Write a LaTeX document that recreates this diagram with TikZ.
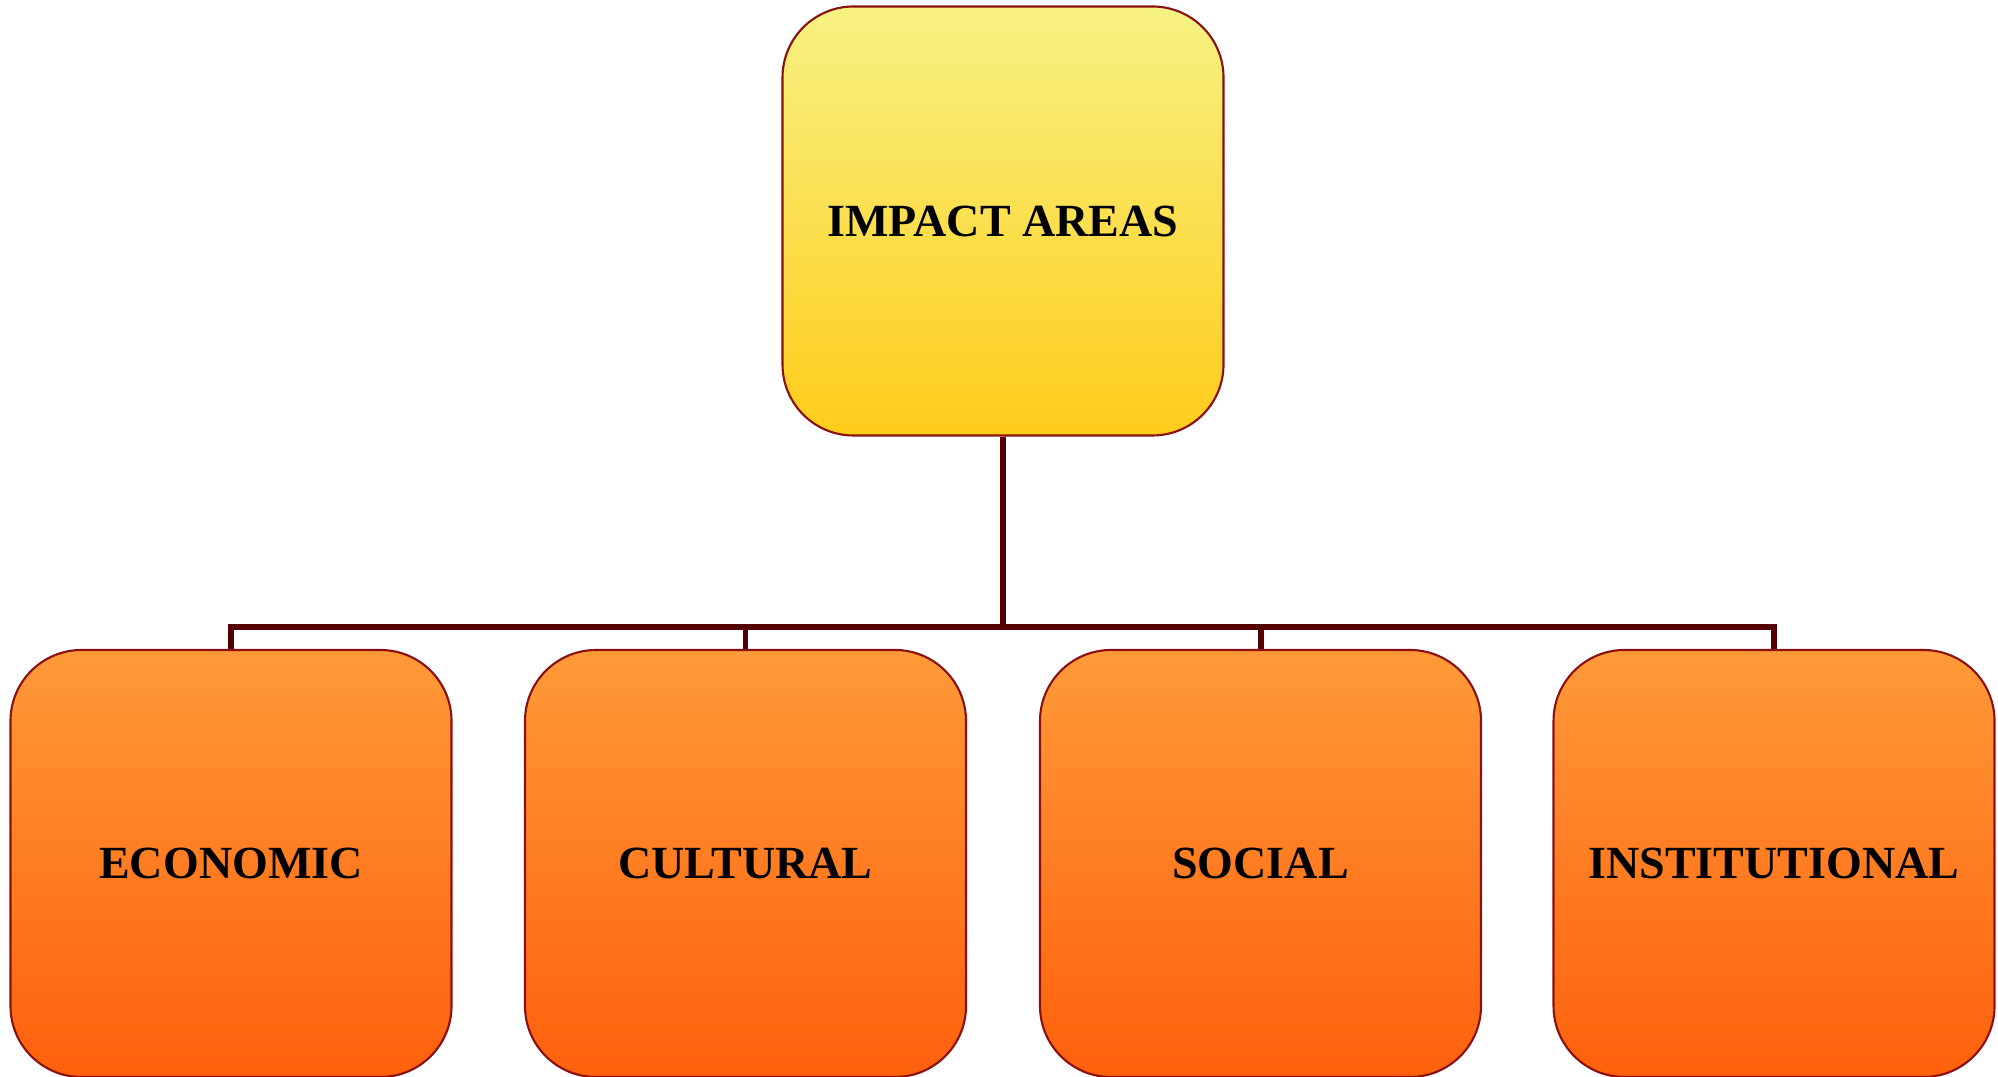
\documentclass[tikz,border=0pt]{standalone}
\usepackage{fontspec}
\setmainfont{Liberation Serif}
\usetikzlibrary{positioning}

\definecolor{boxline}{HTML}{8B1010}
\definecolor{linkcol}{HTML}{550000}
\definecolor{topyellow}{HTML}{F7F283}
\definecolor{botyellow}{HTML}{FFCC1A}
\definecolor{toporange}{HTML}{FF9A38}
\definecolor{botorange}{HTML}{FF600C}

\tikzset{
  area/.style={draw=boxline, line width=0.6pt, rounded corners=0.71cm,
    minimum width=4.41cm, minimum height=4.27cm, inner sep=0pt,
    font=\bfseries\fontsize{13.1}{16}\selectfont, text=black},
  topbox/.style={area, top color=topyellow, bottom color=botyellow, minimum height=4.29cm},
  subbox/.style={area, top color=toporange, bottom color=botorange},
  link/.style={draw=linkcol, line width=1.7pt}
}

\begin{document}
\begin{tikzpicture}
    \useasboundingbox (0,0) rectangle (19.98,10.77);

    % Top box
    \node[topbox] (impact) at (10.03,8.56) {IMPACT AREAS};

    % Area boxes and links
    \foreach \name/\x/\txt in {eco/2.31/ECONOMIC, cul/7.455/CULTURAL,
                               soc/12.605/SOCIAL, inst/17.74/INSTITUTIONAL} {
        \node[subbox] (\name) at (\x,2.135) {\txt};
        \draw[link] (impact.south) -- ++(0,-1.9) -| (\name.north);
    }
\end{tikzpicture}
\end{document}
